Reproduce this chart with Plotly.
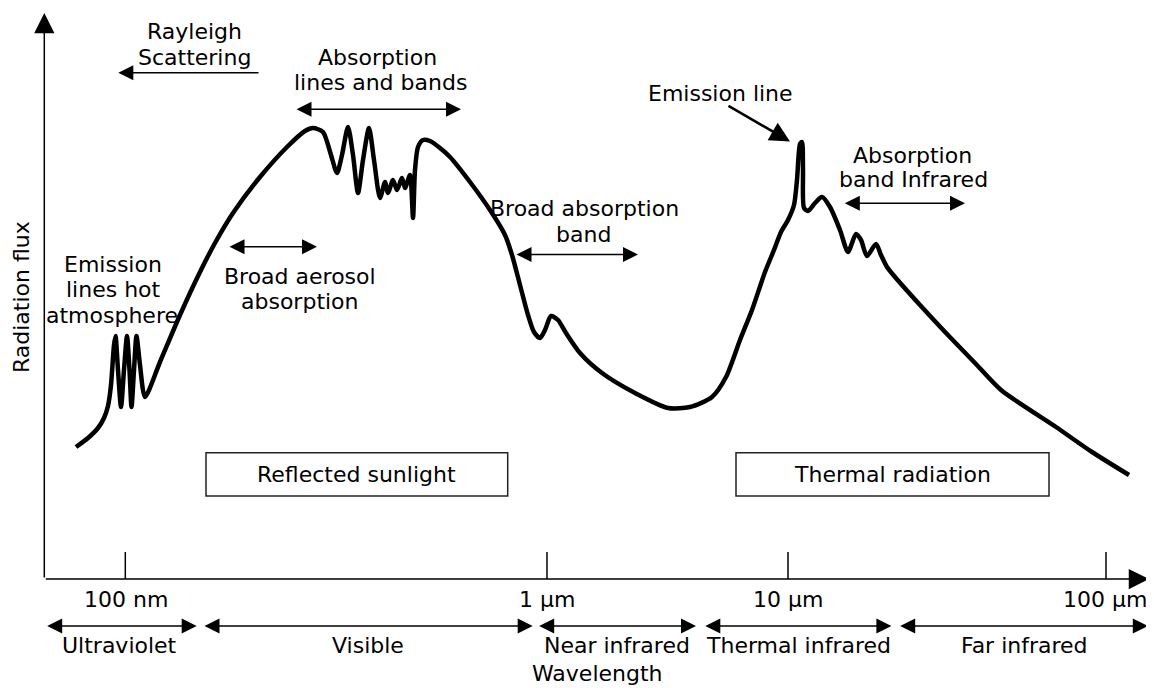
import plotly.graph_objects as go

# ---- data (schematic units: x = position along wavelength axis, y = radiation flux) ----
curve_x = [76, 88, 98, 104, 108, 111, 114, 115.5, 118, 121, 124, 127, 129.5, 131.5, 134, 136.5,
           140, 145, 160, 180, 200, 215, 233, 260, 287, 305, 313, 323, 331, 337, 342, 348, 353,
           358, 363, 369, 374, 380, 385, 388, 393, 397, 402, 405, 410, 413, 415, 418, 423, 430,
           440, 450, 470, 490, 505, 512, 520, 528, 534, 540, 545, 551, 558, 566, 580, 602, 635,
           668, 690, 712, 726, 740, 752, 765, 774, 781, 788, 794, 797, 800, 802, 803, 804, 808,
           815, 822, 830, 840, 848, 856, 861, 867, 876, 881, 887, 895, 920, 946, 975, 1001, 1056,
           1092, 1129]
curve_flux = [132, 141, 151, 161, 173, 194, 234, 243, 209, 172, 209, 243, 209, 172, 209, 243,
              214, 182, 217, 264, 307, 336, 366, 402, 432, 448, 451, 447, 424, 406, 424, 452, 424,
              386, 419, 451, 419, 381, 397, 386, 399, 389, 401, 391, 404, 361, 409, 432, 439, 438,
              431, 422, 397, 369, 344, 324, 294, 264, 247, 241, 249, 263, 259, 246, 226, 206, 186,
              171, 172, 182, 202, 239, 269, 307, 329, 347, 359, 374, 399, 435, 437, 409, 371, 368,
              376, 382, 372, 349, 327, 345, 339, 323, 335, 324, 312, 302, 274, 246, 216, 189, 152,
              127, 104]

tick_pos = [125.3, 547, 788, 1106]
tick_labels = ["100 nm", "1 µm", "10 µm", "100 µm"]
tick_label_x = [125.5, 547, 788, 1104]

region_labels = ["Ultraviolet", "Visible", "Near infrared", "Thermal infrared", "Far infrared"]
region_start = [45.7, 203, 537.7, 703.8, 898.7]
region_end = [196.7, 532.7, 696, 891.4, 1147.8]
region_label_x = [119.7, 368, 617, 798, 1024]

box_labels = ["Reflected sunlight", "Thermal radiation"]
box_start = [206, 736]
box_end = [507.7, 1049]

FONT = "DejaVu Sans"
FS = 22

fig = go.Figure()
fig.add_trace(go.Scatter(x=curve_x, y=curve_flux, mode="lines",
                         line=dict(color="black", width=4.5, shape="spline", smoothing=0.7),
                         hoverinfo="skip", showlegend=False))

annotations = []
shapes = []


def text(x, y, s, angle=0, xanchor="center"):
    annotations.append(dict(x=x, y=y, xref="x", yref="y", text=s, showarrow=False,
                            xanchor=xanchor, yanchor="middle", textangle=angle,
                            font=dict(family=FONT, size=FS, color="black")))


def arrow(x0, y0, x1, y1, both=False, width=1.5, size=2.0):
    annotations.append(dict(x=x1, y=y1, ax=x0, ay=y0, xref="x", yref="y", axref="x", ayref="y",
                            text="", showarrow=True, arrowhead=2, startarrowhead=2,
                            arrowside="end+start" if both else "end",
                            arrowwidth=width, arrowsize=size, startarrowsize=size,
                            arrowcolor="black", standoff=0, startstandoff=0))


# axes
arrow(44.3, 0, 44.3, 566, width=1.5, size=2.7)
arrow(44.3, 0, 1149, 0, width=1.5, size=2.7)
for tp in tick_pos:
    shapes.append(dict(type="line", x0=tp, x1=tp, y0=0, y1=27, xref="x", yref="y",
                       line=dict(color="black", width=1.5)))
for lx, lab in zip(tick_label_x, tick_labels):
    if lab == tick_labels[-1]:
        text(1149, -20.5, lab, xanchor="right")
    else:
        text(lx, -20.5, lab)

# wavelength regions
for s, e, lx, lab in zip(region_start, region_end, region_label_x, region_labels):
    arrow(s, -47, e, -47, both=True)
    text(lx, -66.5, lab)
text(597, -94, "Wavelength")
text(21, 282, "Radiation flux", angle=-90)

# boxes
for s, e, lab in zip(box_start, box_end, box_labels):
    shapes.append(dict(type="rect", x0=s, x1=e, y0=83, y1=126.3, xref="x", yref="y",
                       line=dict(color="#222222", width=1.5), fillcolor="rgba(0,0,0,0)"))
    text((s + e) / 2, 105, lab)

# feature labels
text(194, 548, "Rayleigh")
text(194, 522, "Scattering")
arrow(260, 506.3, 118.3, 506.3)

text(377, 521.5, "Absorption")
text(380, 496.5, "lines and bands")
arrow(295, 469.7, 461, 469.7, both=True)

text(720, 486, "Emission line")
arrow(727, 474, 790, 437.5, width=2.5, size=1.6)

text(912, 424, "Absorption")
text(913, 400, "band Infrared")
arrow(843.3, 375.7, 965, 375.7, both=True)

text(584, 370.5, "Broad absorption")
text(583, 345, "band")
arrow(515, 324.5, 638, 324.5, both=True)

text(113, 315, "Emission")
text(113, 290, "lines hot")
text(112, 264, "atmosphere")

text(299.5, 302.5, "Broad aerosol")
text(299.7, 278, "absorption")
arrow(228, 332.3, 317, 332.3, both=True)

# the page body adds an 8 px margin; the figure is 8 px smaller and the ranges start 8 px in
fig.update_layout(
    width=1146, height=680,
    margin=dict(l=0, r=0, t=0, b=0),
    paper_bgcolor="white", plot_bgcolor="white",
    xaxis=dict(range=[8, 1154], visible=False, fixedrange=True),
    yaxis=dict(range=[579 - 688, 579 - 8], visible=False, fixedrange=True),
    annotations=annotations, shapes=shapes,
    showlegend=False,
)

fig.write_html("out.html")
